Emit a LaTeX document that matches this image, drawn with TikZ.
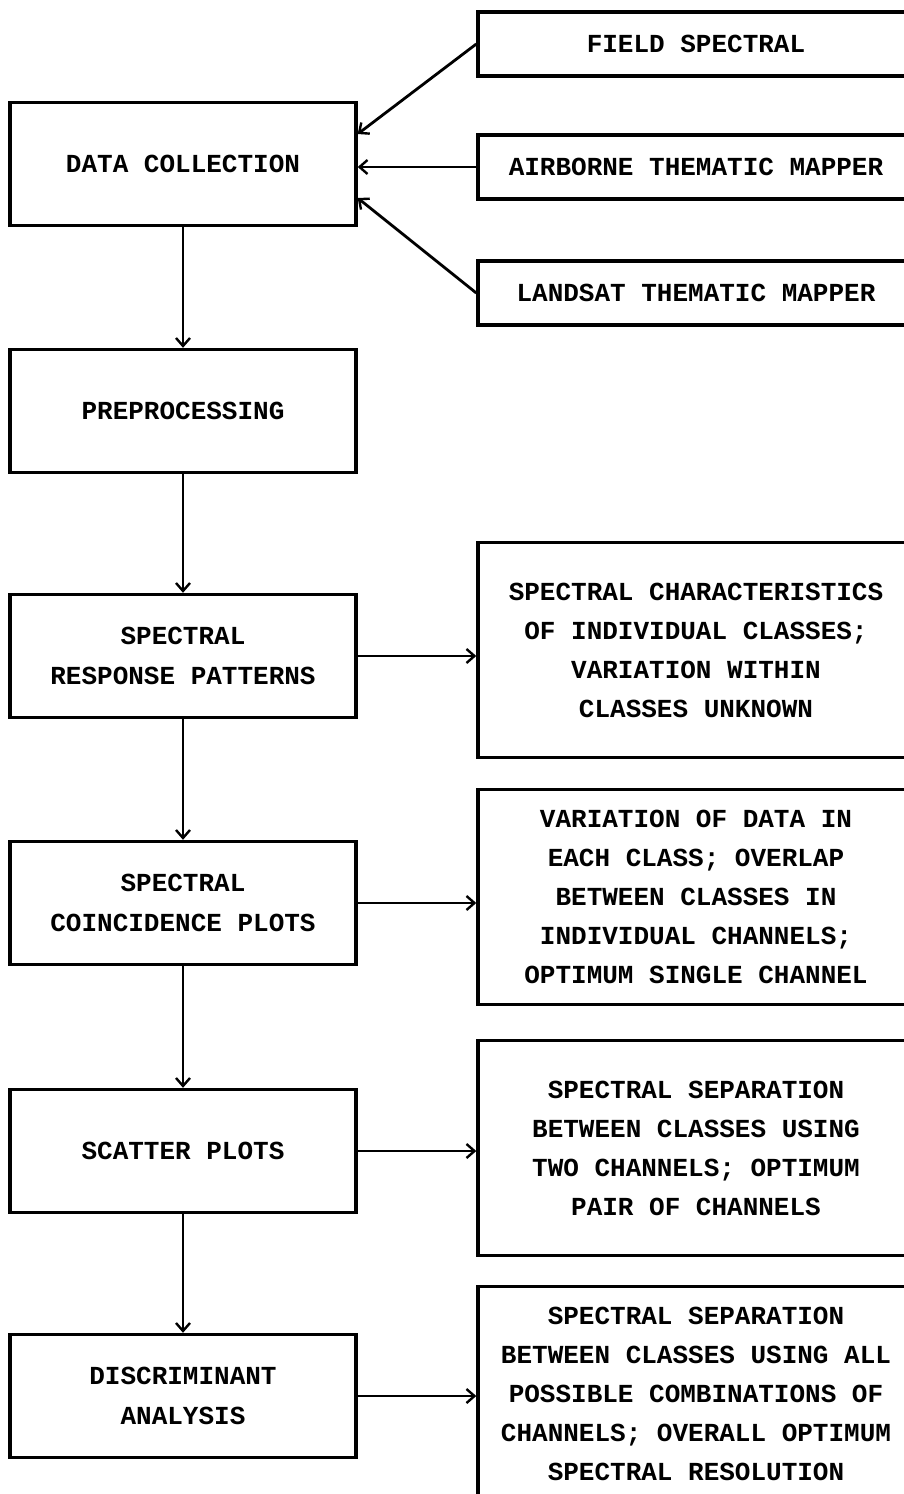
\documentclass[tikz,border=0pt]{standalone}
\usepackage{fontspec}
\setmainfont{Liberation Mono}
\usepackage{tikz}
\usetikzlibrary{arrows.meta, positioning}

\tikzset{
  leftbox/.style={draw, line width=3.4pt, minimum width=346pt, minimum height=123pt,
    align=center, font=\fontsize{26}{40}\selectfont\bfseries},
  infobox/.style={draw, line width=3.4pt, minimum width=436pt, minimum height=215pt,
    align=center, font=\fontsize{26}{39}\selectfont\bfseries},
  srcbox/.style={infobox, minimum height=64pt},
  arr/.style={line width=2.8pt, -{Straight Barb[length=8pt, width=14pt, line width=2.4pt]}}
}

\begin{document}
\begin{tikzpicture}[x=1pt, y=-1pt]
  \useasboundingbox (0,0) rectangle (904,1494);
  \clip (0,0) rectangle (904,1494);

  % Sources of data
  \node[srcbox] (fieldspec) at (696,44) {FIELD SPECTRAL};
  \node[srcbox] (atm) at (696,167) {AIRBORNE THEMATIC MAPPER};
  \node[srcbox] (ltm) at (696,293) {LANDSAT THEMATIC MAPPER};

  % Main chain of steps
  \node[leftbox] (datacol) at (183,164) {DATA COLLECTION};
  \node[leftbox] (preproc) at (183,411) {PREPROCESSING};
  \node[leftbox] (resppat) at (183,656) {SPECTRAL\\RESPONSE PATTERNS};
  \node[leftbox] (coinc) at (183,903) {SPECTRAL\\COINCIDENCE PLOTS};
  \node[leftbox] (scatter) at (183,1151) {SCATTER PLOTS};
  \node[leftbox] (discrim) at (183,1396) {DISCRIMINANT\\ANALYSIS};

  % What each step gives
  \node[infobox] (charinfo) at (696,650) {SPECTRAL CHARACTERISTICS\\OF INDIVIDUAL CLASSES;\\VARIATION WITHIN\\CLASSES UNKNOWN};
  \node[infobox] (varinfo) at (696,897) {VARIATION OF DATA IN\\EACH CLASS; OVERLAP\\BETWEEN CLASSES IN\\INDIVIDUAL CHANNELS;\\OPTIMUM SINGLE CHANNEL};
  \node[infobox] (sepinfo) at (696,1148) {SPECTRAL SEPARATION\\BETWEEN CLASSES USING\\TWO CHANNELS; OPTIMUM\\PAIR OF CHANNELS};
  \node[infobox] (optinfo) at (696,1394) {SPECTRAL SEPARATION\\BETWEEN CLASSES USING ALL\\POSSIBLE COMBINATIONS OF\\CHANNELS; OVERALL OPTIMUM\\SPECTRAL RESOLUTION};

  % Inputs to data collection
  \draw[arr] (fieldspec.west) -- ([yshift=30pt]datacol.east);
  \draw[arr] (atm.west) -- ([yshift=-3pt]datacol.east);
  \draw[arr] (ltm.west) -- ([yshift=-34pt]datacol.east);

  % Down the chain
  \draw[arr] (datacol) -- (preproc);
  \draw[arr] (preproc) -- (resppat);
  \draw[arr] (resppat) -- (coinc);
  \draw[arr] (coinc) -- (scatter);
  \draw[arr] (scatter) -- (discrim);

  % Across to the results
  \draw[arr] (resppat.east) -- (resppat.east -| charinfo.west);
  \draw[arr] (coinc.east) -- (coinc.east -| varinfo.west);
  \draw[arr] (scatter.east) -- (scatter.east -| sepinfo.west);
  \draw[arr] (discrim.east) -- (discrim.east -| optinfo.west);
\end{tikzpicture}
\end{document}
